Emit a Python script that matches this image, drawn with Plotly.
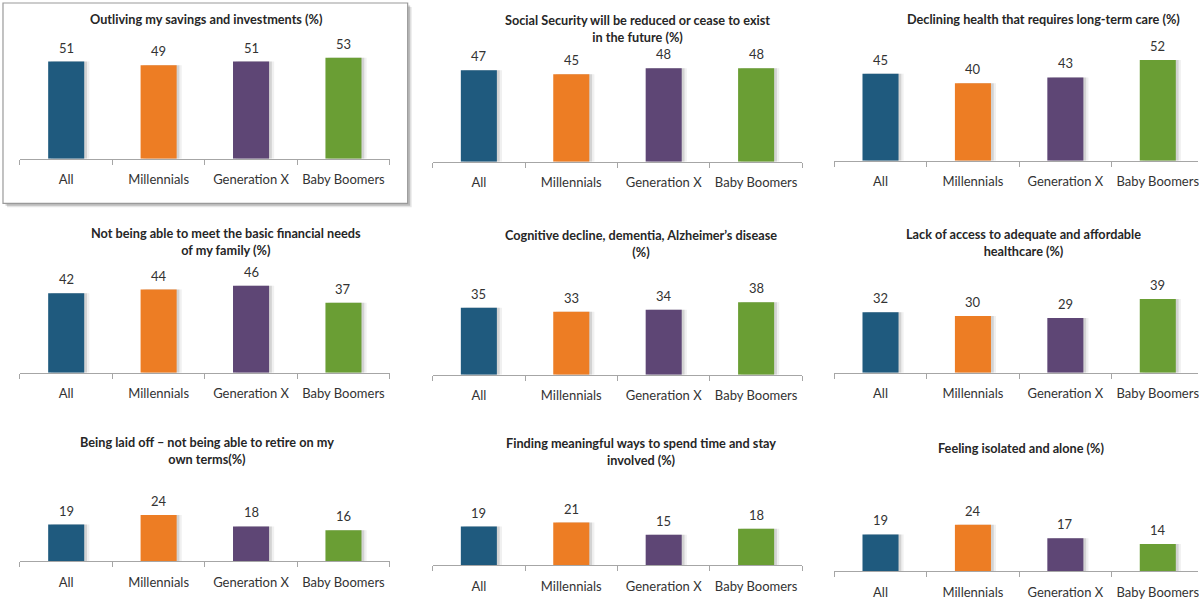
import plotly.graph_objects as go

# Survey categories (x axis of every panel)
categories = ["All", "Millennials", "Generation X", "Baby Boomers"]
bar_colors = ["#1F5A7E", "#ED7D24", "#5E4675", "#6A9E34"]

# Panel titles, row by row
titles = [
    "Outliving my savings and investments (%)",
    "Social Security will be reduced or cease to exist<br>in the future (%)",
    "Declining health that requires long-term care (%)",
    "Not being able to meet the basic financial needs<br>of my family (%)",
    "Cognitive decline, dementia, Alzheimer\u2019s disease<br>(%)",
    "Lack of access to adequate and affordable<br>healthcare (%)",
    "Being laid off \u2013 not being able to retire on my<br>own terms(%)",
    "Finding meaningful ways to spend time and stay<br>involved (%)",
    "Feeling isolated and alone (%)",
]

# Share of respondents (%) per panel: All, Millennials, Gen X, Baby Boomers
savings = [51, 49, 51, 53]
social_security = [47, 45, 48, 48]
long_term_care = [45, 40, 43, 52]
family_needs = [42, 44, 46, 37]
cognitive = [35, 33, 34, 38]
healthcare = [32, 30, 29, 39]
laid_off = [19, 24, 18, 16]
meaningful = [19, 21, 15, 18]
isolated = [19, 24, 17, 14]

panel_values = [savings, social_security, long_term_care,
                family_needs, cognitive, healthcare,
                laid_off, meaningful, isolated]

# Panel geometry in pixels: left edge of axis, axis baseline, px per unit
W, H = 1199, 600
geom = [
    (20, 160, 1.92), (433, 163, 1.96), (835, 162, 1.95),
    (20, 376, 1.91), (433, 378, 1.93), (835, 376, 1.91),
    (20, 566, 1.95), (433, 570, 2.05), (835, 576, 1.95),
]
# Title anchor (center x, center y) in pixels
title_pos = [
    (207, 19), (638, 29), (1044, 19),
    (226, 244), (642, 246), (1024, 245),
    (207, 454), (642, 455), (1022, 452),
]

CAT_W = 92.5      # px per category
BAR_W = 0.39      # bar width in category units
YMAX = 60
FONT = "Lato"
TXT = "#333333"

fig = go.Figure()
layout = dict(
    width=W, height=H,
    margin=dict(l=0, r=0, t=0, b=0),
    paper_bgcolor="white", plot_bgcolor="rgba(0,0,0,0)",
    showlegend=False, barmode="overlay",
    font=dict(family=FONT, color=TXT),
)
annotations = []
shapes = []

# Framed first panel with a soft drop shadow
for dx, alpha in [(4, 0.10), (2.5, 0.18)]:
    shapes.append(dict(type="rect", xref="paper", yref="paper", layer="below",
                       x0=(3 + dx) / W, x1=(408 + dx) / W,
                       y0=1 - (205 + dx) / H, y1=1 - (3 + dx) / H,
                       line=dict(width=0), fillcolor=f"rgba(0,0,0,{alpha})"))
shapes.append(dict(type="rect", xref="paper", yref="paper", layer="below",
                   x0=3 / W, x1=408 / W, y0=1 - 205 / H, y1=1 - 3 / H,
                   line=dict(color="#9A9A9A", width=1.2), fillcolor="white"))

for i, (vals, (x0, base, scale)) in enumerate(zip(panel_values, geom)):
    n = "" if i == 0 else str(i + 1)
    xa, ya = "x" + n, "y" + n
    x1 = x0 + 4 * CAT_W
    right = -0.5 + 4
    if x1 > W:
        right = -0.5 + (W - x0) / CAT_W
        x1 = W
    top = base - scale * YMAX

    # soft shadow to the right of each bar
    for off, alpha in [(0.055, 0.08), (0.03, 0.16)]:
        fig.add_trace(go.Bar(
            x=categories, y=vals, xaxis=xa, yaxis=ya,
            width=BAR_W, offset=-BAR_W / 2 + off,
            marker=dict(color=f"rgba(60,60,60,{alpha})", line=dict(width=0)),
            hoverinfo="skip"))
    fig.add_trace(go.Bar(
        x=categories, y=vals, xaxis=xa, yaxis=ya, width=BAR_W,
        marker=dict(color=bar_colors, line=dict(width=0))))

    layout["xaxis" + n] = dict(
        domain=[x0 / W, x1 / W], anchor=ya, type="category",
        categoryorder="array", categoryarray=categories,
        range=[-0.5, right], showline=True, linecolor="#A6A6A6", linewidth=1,
        ticks="outside", tickson="boundaries", ticklen=5, tickcolor="#A6A6A6",
        ticklabelstandoff=9,
        tickfont=dict(size=13, color=TXT, family=FONT),
        showgrid=False, zeroline=False, fixedrange=True)
    layout["yaxis" + n] = dict(
        domain=[1 - base / H, 1 - top / H], anchor=xa, range=[0, YMAX],
        visible=False, showgrid=False, zeroline=False, fixedrange=True)

    for c, v in zip(categories, vals):
        annotations.append(dict(
            x=c, y=v, xref=xa, yref=ya, text=str(v), showarrow=False,
            yanchor="bottom", yshift=4, font=dict(size=13, color=TXT)))

    tx, ty = title_pos[i]
    annotations.append(dict(
        x=tx / W, y=1 - ty / H, xref="paper", yref="paper",
        text="<b>" + titles[i] + "</b>", showarrow=False,
        xanchor="center", yanchor="middle", align="center",
        font=dict(size=12.7, color="#262626")))

layout["annotations"] = annotations
layout["shapes"] = shapes
fig.update_layout(**layout)
fig.write_html("out.html")
